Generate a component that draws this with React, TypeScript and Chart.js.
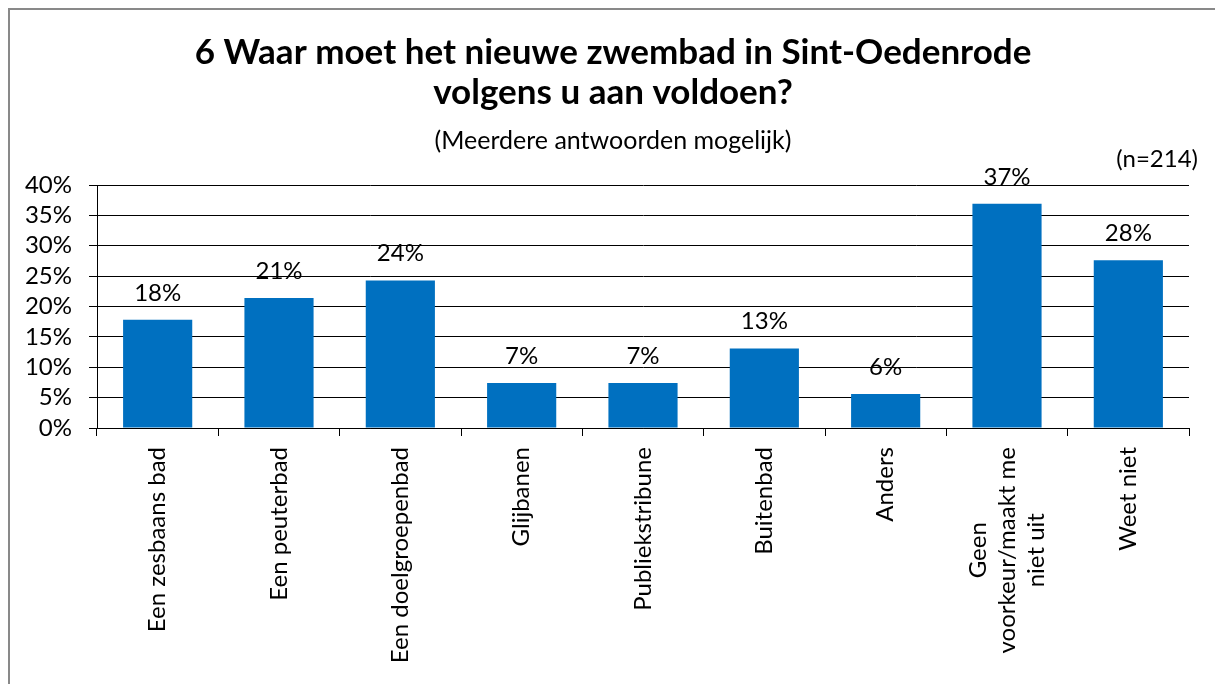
import React, { useEffect, useRef } from "react";
import { Chart, registerables } from "chart.js";

Chart.register(...registerables);

const TITLE_LINES = ["6 Waar moet het nieuwe zwembad in Sint-Oedenrode", "volgens u aan voldoen?"];
const SUBTITLE = "(Meerdere antwoorden mogelijk)";
const SAMPLE_NOTE = "(n=214)";
const CATEGORIES: string[][] = [
  ["Een zesbaans bad"],
  ["Een peuterbad"],
  ["Een doelgroepenbad"],
  ["Glijbanen"],
  ["Publiekstribune"],
  ["Buitenbad"],
  ["Anders"],
  ["Geen", "voorkeur/maakt me", "niet uit"],
  ["Weet niet"],
];
const VALUES = [17.8, 21.4, 24.3, 7.4, 7.4, 13.1, 5.6, 36.9, 27.6];
const Y_MIN = 0;
const Y_MAX = 40;
const Y_STEP = 5;

const FONT = "Lato, Carlito, Calibri, sans-serif";
const BAR_COLOR = "#0070C0";

const decorPlugin = {
  id: "decor",
  beforeDraw(chart: any) {
    const { ctx, width, height } = chart;
    ctx.save();
    ctx.fillStyle = "#ffffff";
    ctx.fillRect(0, 0, width, height);
    ctx.fillStyle = "#898989";
    ctx.fillRect(8, 8, width - 8, 2);
    ctx.fillRect(8, 8, 2, height - 8);
    ctx.restore();
  },
  afterDraw(chart: any) {
    const { ctx, chartArea } = chart;
    const cx = 613;
    ctx.save();
    ctx.fillStyle = "#000000";
    ctx.textAlign = "center";
    ctx.textBaseline = "alphabetic";
    ctx.font = `bold 35px ${FONT}`;
    ctx.fillText(TITLE_LINES[0], cx, 64);
    ctx.fillText(TITLE_LINES[1], cx, 104);
    ctx.font = `25px ${FONT}`;
    ctx.fillText(SUBTITLE, cx, 149);
    ctx.font = `24px ${FONT}`;
    ctx.textAlign = "right";
    ctx.fillText(SAMPLE_NOTE, 1198, 167);

    // data labels
    const meta = chart.getDatasetMeta(0);
    ctx.textAlign = "center";
    ctx.font = `24px ${FONT}`;
    meta.data.forEach((el: any, i: number) => {
      const v = VALUES[i];
      ctx.fillText(`${Math.round(v)}%`, el.x, el.y - 19);
    });

    // x labels, rotated, centered lines
    const xScale = chart.scales.x;
    const topY = chartArea.bottom + 19;
    const lh = 29;
    ctx.font = `24px ${FONT}`;
    CATEGORIES.forEach((lines, i) => {
      const x = xScale.getPixelForTick(i);
      const w = Math.max(...lines.map((l) => ctx.measureText(l).width));
      ctx.save();
      ctx.translate(x, topY);
      ctx.rotate(-Math.PI / 2);
      ctx.textAlign = "center";
      ctx.textBaseline = "middle";
      lines.forEach((l, k) => {
        ctx.fillText(l, -w / 2, (k - (lines.length - 1) / 2) * lh);
      });
      ctx.restore();
    });
    ctx.restore();
  },
};

export default function App() {
  const ref = useRef<HTMLCanvasElement | null>(null);
  useEffect(() => {
    if (!ref.current) return;
    const chart = new Chart(ref.current, {
      type: "bar",
      data: {
        labels: CATEGORIES.map((c) => c.join(" ")),
        datasets: [
          {
            data: VALUES,
            backgroundColor: BAR_COLOR,
            borderWidth: 0,
            categoryPercentage: 1,
            barPercentage: 0.57,
          },
        ],
      },
      options: {
        animation: false,
        responsive: false,
        devicePixelRatio: 1,
        layout: { padding: { left: 0, right: 26, top: 185, bottom: 248 } },
        plugins: {
          legend: { display: false },
          title: { display: false },
          tooltip: { enabled: false },
        },
        scales: {
          x: {
            offset: true,
            grid: {
              display: true,
              offset: true,
              drawOnChartArea: false,
              drawTicks: true,
              tickLength: 8,
              color: "#000000",
              lineWidth: 1,
            },
            border: { display: true, color: "#000000", width: 1 },
            ticks: { display: false },
          },
          y: {
            min: Y_MIN,
            max: Y_MAX,
            afterFit: (scale: any) => {
              scale.width = 97;
            },
            grid: {
              color: "#000000",
              lineWidth: 1,
              tickLength: 8,
              drawTicks: true,
            },
            border: { display: true, color: "#000000", width: 1 },
            ticks: {
              stepSize: Y_STEP,
              autoSkip: false,
              padding: 17,
              color: "#000000",
              font: { family: FONT, size: 24 },
              callback: (v: any) => `${v}%`,
            },
          },
        },
      },
      plugins: [decorPlugin],
    });
    return () => chart.destroy();
  }, []);
  return (
    <div style={{ position: "fixed", left: 0, top: 0, width: 1215, height: 684 }}>
      <canvas ref={ref} width={1215} height={684} style={{ display: "block" }} />
    </div>
  );
}
